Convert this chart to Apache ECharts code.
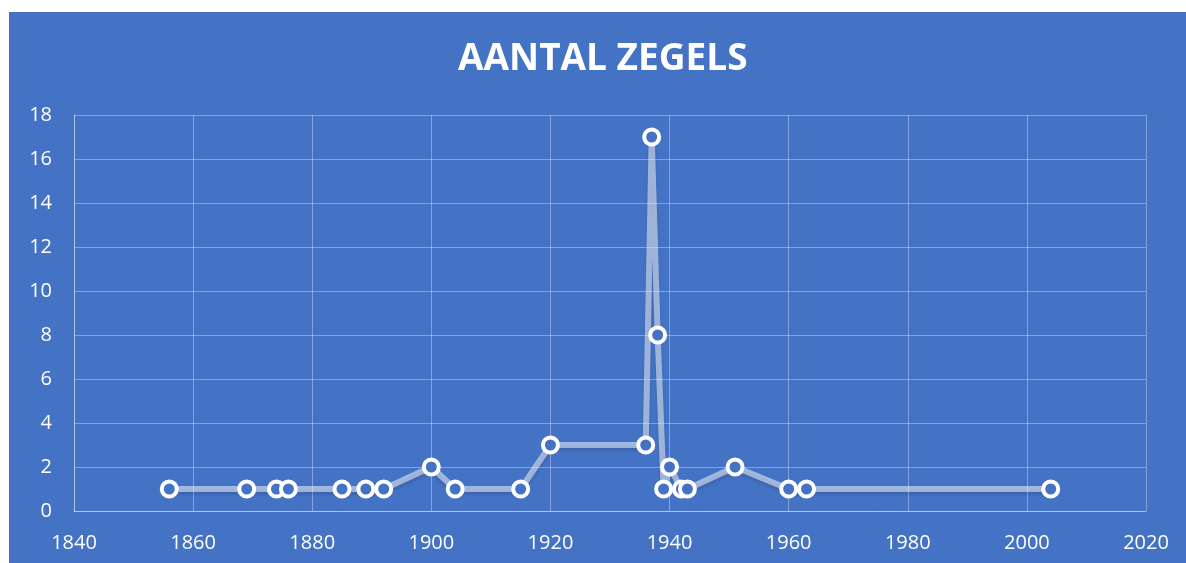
<!DOCTYPE html>
<html>
<head>
<meta charset="utf-8">
<script src="https://cdn.jsdelivr.net/npm/echarts@6/dist/echarts.min.js"></script>
<style>
  html, body { margin: 0; padding: 0; background: #fff; }
  #wrap { position: relative; width: 1186px; height: 563px; overflow: hidden; }
  #chart { position: absolute; left: 9px; top: 12px; width: 1177px; height: 551px; background: #4472C4; }
</style>
</head>
<body>
<div id="wrap"><div id="chart"></div></div>
<script>
// jaartallen en aantal zegels
var years  = [1856, 1869, 1874, 1876, 1885, 1889, 1892, 1900, 1904, 1915, 1920, 1936, 1937, 1938, 1939, 1940, 1942, 1943, 1951, 1960, 1963, 2004];
var counts = [1,    1,    1,    1,    1,    1,    1,    2,    1,    1,    3,    3,    17,   8,    1,    2,    1,    1,    2,    1,    1,    1];
var xTicks = [1840, 2020, 20];
var yTicks = [0, 18, 2];

var gridColor = "rgba(255,255,255,0.35)";

var chart = echarts.init(document.getElementById("chart"));
chart.setOption({
    animation: false,
    backgroundColor: "#4472C4",
    title: {
        text: "AANTAL ZEGELS",
        left: 449,
        top: 29,
        padding: 0,
        textStyle: {
            color: "#fff",
            fontFamily: "Open Sans",
            fontWeight: "bold",
            fontSize: 37
        }
    },
    grid: {
        left: 65,
        right: 40,
        top: 103,
        bottom: 52
    },
    xAxis: {
        type: "value",
        min: xTicks[0],
        max: xTicks[1],
        interval: xTicks[2],
        axisLine: { show: true, lineStyle: { color: gridColor } },
        axisTick: { show: false },
        splitLine: { show: true, lineStyle: { color: gridColor } },
        axisLabel: {
            color: "#fff",
            fontFamily: "Open Sans",
            fontSize: 20,
            margin: 22,
            formatter: function (v) { return String(v); }
        }
    },
    yAxis: {
        type: "value",
        min: yTicks[0],
        max: yTicks[1],
        interval: yTicks[2],
        axisLine: { show: true, lineStyle: { color: gridColor } },
        axisTick: { show: false },
        splitLine: { show: true, lineStyle: { color: gridColor } },
        axisLabel: {
            color: "#fff",
            fontFamily: "Open Sans",
            fontSize: 20,
            margin: 22
        }
    },
    series: [
        {
            type: "line",
            data: years.map(function (y, i) { return [y, counts[i]]; }),
            symbol: "circle",
            symbolSize: 15,
            showAllSymbol: true,
            lineStyle: {
                color: "rgba(255,255,255,0.5)",
                width: 6,
                shadowColor: "rgba(0,0,0,0.22)",
                shadowBlur: 3,
                shadowOffsetY: 3
            },
            itemStyle: {
                color: "#4472C4",
                borderColor: "#fff",
                borderWidth: 4
            }
        }
    ]
});
window.addEventListener("resize", function () {
    chart.resize();
});
</script>
</body>
</html>
